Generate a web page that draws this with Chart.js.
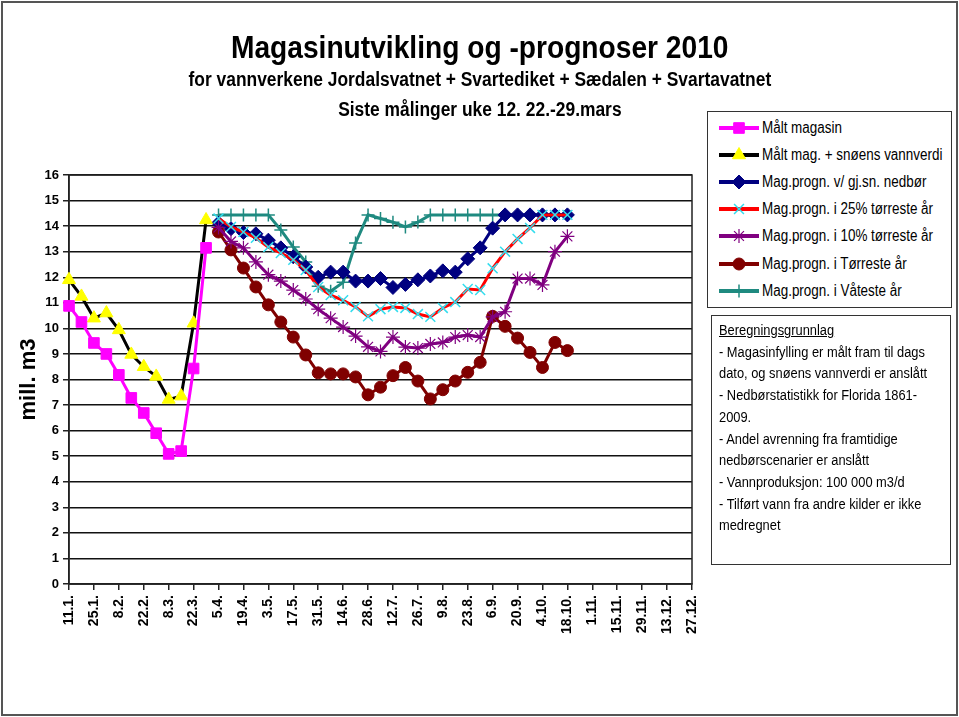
<!DOCTYPE html>
<html>
<head>
<meta charset="utf-8">
<script src="https://cdn.jsdelivr.net/npm/chart.js@4.4.1/dist/chart.umd.min.js"></script>
<style>
    body { margin: 0; background: #fff; }
    #frame { position: absolute; left: 1px; top: 1px; width: 953px; height: 711px; border: 2px solid #555; }
    #chartWrap { position: absolute; left: 0; top: 0; width: 959px; height: 717px; }
    .narrow { font-family: "Liberation Sans Narrow", "Arial Narrow", "Liberation Sans", sans-serif; color: #000; white-space: nowrap; }
    .ttl { position: absolute; left: 0; width: 959px; text-align: center; font-weight: bold; }
    .ttl span { display: inline-block; transform-origin: center center; }
    #t1 { top: 29px; font-size: 32px; }
    #t1 span { transform: scaleX(0.88); }
    #t2 { top: 68px; font-size: 20px; }
    #t3 { top: 98px; font-size: 20px; }
    #t2 span, #t3 span { transform: scaleX(0.87); }
    #legend-container { position: absolute; left: 707px; top: 111px; width: 243px; height: 195px; border: 1.5px solid #333; background: #fff; }
    #legend-container ul { list-style: none; margin: 0; padding: 2px 0 0 0; }
    #legend-container li { height: 27.2px; display: flex; align-items: center; font-size: 16px; }
    #legend-container canvas { margin: 0 3px 0 11px; }
    #legend-container span { display: inline-block; transform: scaleX(0.84); transform-origin: left center; }
    #notes { position: absolute; left: 711px; top: 315px; width: 238px; height: 248px; border: 1.5px solid #333; }
    #notes div { position: absolute; left: 7px; top: 3px; font-size: 15.5px; line-height: 21.7px; transform: scaleX(0.83); transform-origin: left top; }
</style>
</head>
<body>
<div id="frame"></div>
<div id="chartWrap"><canvas id="chart1" width="959" height="717"></canvas></div>
<div id="t1" class="narrow ttl"><span>Magasinutvikling og -prognoser 2010</span></div>
<div id="t2" class="narrow ttl"><span>for vannverkene Jordalsvatnet + Svartediket + Sædalen + Svartavatnet</span></div>
<div id="t3" class="narrow ttl"><span>Siste målinger uke 12. 22.-29.mars</span></div>
<div id="legend-container" class="narrow"></div>
<div id="notes" class="narrow"><div>
    <u>Beregningsgrunnlag</u><br>
    - Magasinfylling er målt fram til dags<br>
    dato, og snøens vannverdi er anslått<br>
    - Nedbørstatistikk for Florida 1861-<br>
    2009.<br>
    - Andel avrenning fra framtidige<br>
    nedbørscenarier er anslått<br>
    - Vannproduksjon: 100 000 m3/d<br>
    - Tilført vann fra andre kilder er ikke<br>
    medregnet
</div></div>
<script>
// weekly categories, every second one is labelled on the axis
const weeks = [
    '11.1.', '18.1.', '25.1.', '1.2.', '8.2.', '15.2.', '22.2.', '1.3.', '8.3.', '15.3.',
    '22.3.', '29.3.', '5.4.', '12.4.', '19.4.', '26.4.', '3.5.', '10.5.', '17.5.', '24.5.',
    '31.5.', '7.6.', '14.6.', '21.6.', '28.6.', '5.7.', '12.7.', '19.7.', '26.7.', '2.8.',
    '9.8.', '16.8.', '23.8.', '30.8.', '6.9.', '13.9.', '20.9.', '27.9.', '4.10.', '11.10.',
    '18.10.', '25.10.', '1.11.', '8.11.', '15.11.', '22.11.', '29.11.', '6.12.', '13.12.', '20.12.',
    '27.12.'
];

// measured values, weeks 11.1. - 29.3.
const maaltMagasin = [10.88, 10.25, 9.43, 9.0, 8.18, 7.28, 6.69, 5.9, 5.09, 5.2, 8.43, 13.15];
const maaltPlussSno = [11.9, 11.25, 10.4, 10.6, 9.94, 8.98, 8.5, 8.12, 7.22, 7.35, 10.2, 14.24];

// forecasts, weeks 5.4. - 18.10.
const prognGjsn = [14.12, 13.9, 13.75, 13.7, 13.45, 13.15, 12.8, 12.4, 12.0, 12.2, 12.2, 11.85, 11.85, 11.95, 11.6,
    11.72, 11.9, 12.05, 12.25, 12.2, 12.72, 13.15, 13.92, 14.44, 14.44, 14.44, 14.44, 14.44, 14.44];
const progn25 = [14.3, 13.97, 13.77, 13.54, 13.18, 12.95, 12.68, 12.28, 11.62, 11.3, 11.1, 10.84, 10.47, 10.75, 10.84,
    10.8, 10.56, 10.45, 10.8, 11.03, 11.54, 11.5, 12.35, 13.0, 13.5, 13.93, 14.44, 14.44, 14.44];
const progn10 = [13.95, 13.4, 13.15, 12.6, 12.1, 11.85, 11.5, 11.15, 10.75, 10.4, 10.05, 9.7, 9.28, 9.1, 9.66,
    9.27, 9.23, 9.39, 9.45, 9.66, 9.74, 9.66, 10.45, 10.65, 11.95, 11.95, 11.7, 13.0, 13.6];
const prognTorreste = [13.77, 13.07, 12.36, 11.62, 10.92, 10.25, 9.66, 8.96, 8.26, 8.22, 8.22, 8.1, 7.4, 7.7, 8.15,
    8.47, 7.94, 7.24, 7.6, 7.94, 8.28, 8.67, 10.47, 10.08, 9.62, 9.06, 8.47, 9.45, 9.13];
const prognVateste = [14.44, 14.44, 14.44, 14.44, 14.44, 13.85, 13.18, 12.6, 11.65, 11.45, 11.8, 13.34, 14.44, 14.3, 14.15,
    13.97, 14.16, 14.44, 14.44, 14.44, 14.44, 14.44, 14.44, 14.44, 14.44, 14.44, 14.44, 14.44, 14.44];

const pad = n => Array(n).fill(null);
const measured = arr => [...arr, ...pad(weeks.length - arr.length)];
const forecast = arr => [...pad(12), ...arr, ...pad(weeks.length - 12 - arr.length)];

const axisFamily = 'Liberation Sans, Arial, sans-serif';

const data1 = {
    labels: weeks,
    datasets: [
        { label: 'Målt magasin', data: measured(maaltMagasin), borderColor: '#ff00ff', backgroundColor: '#ff00ff',
          pointStyle: 'rect', pointRadius: 7.5, pointBorderWidth: 1, borderWidth: 3 },
        { label: 'Målt mag. + snøens vannverdi', data: measured(maaltPlussSno), borderColor: '#000000', backgroundColor: '#ffff00',
          pointBorderColor: '#ffff00', pointStyle: 'triangle', pointRadius: 7.5, pointBorderWidth: 1, borderWidth: 3 },
        { label: 'Mag.progn. v/ gj.sn. nedbør', data: forecast(prognGjsn), borderColor: '#000080', backgroundColor: '#000080',
          pointStyle: 'rectRot', pointRadius: 7, pointBorderWidth: 1, borderWidth: 3, order: 1 },
        { label: 'Mag.progn. i 25% tørreste år', data: forecast(progn25), borderColor: '#ff0000', backgroundColor: '#33ddee',
          pointBorderColor: '#33ddee', pointStyle: 'crossRot', pointRadius: 7, pointBorderWidth: 1.5, borderWidth: 3 },
        { label: 'Mag.progn. i 10% tørreste år', data: forecast(progn10), borderColor: '#800080', backgroundColor: '#800080',
          pointStyle: 'star', pointRadius: 7, pointBorderWidth: 1.2, borderWidth: 3 },
        { label: 'Mag.progn. i Tørreste år', data: forecast(prognTorreste), borderColor: '#800000', backgroundColor: '#800000',
          pointStyle: 'circle', pointRadius: 6, pointBorderWidth: 1, borderWidth: 3 },
        { label: 'Mag.progn. i Våteste år', data: forecast(prognVateste), borderColor: '#1f8a80', backgroundColor: '#1f8a80',
          pointStyle: 'cross', pointRadius: 6.5, pointBorderWidth: 1.5, borderWidth: 3, order: 2 }
    ]
};

// legend drawn into a html box, line sample + marker
const htmlLegendPlugin = {
    id: 'htmlLegend',
    afterUpdate(chart, args, options) {
        const container = document.getElementById(options.containerID);
        container.innerHTML = '';
        const ul = document.createElement('ul');
        chart.data.datasets.forEach(ds => {
            const li = document.createElement('li');
            const c = document.createElement('canvas');
            c.width = 40; c.height = 18;
            const ctx = c.getContext('2d');
            ctx.strokeStyle = ds.borderColor;
            ctx.lineWidth = 4;
            ctx.beginPath(); ctx.moveTo(0, 9); ctx.lineTo(40, 9); ctx.stroke();
            ctx.fillStyle = ds.backgroundColor;
            ctx.strokeStyle = ds.pointBorderColor || ds.backgroundColor;
            ctx.lineWidth = ds.pointBorderWidth;
            if (Chart.helpers && Chart.helpers.drawPoint) {
                Chart.helpers.drawPoint(ctx, { pointStyle: ds.pointStyle, radius: ds.pointRadius, rotation: 0, borderWidth: ds.pointBorderWidth }, 20, 9);
            }
            li.appendChild(c);
            const span = document.createElement('span');
            span.textContent = ds.label;
            li.appendChild(span);
            ul.appendChild(li);
        });
        container.appendChild(ul);
    }
};

// frame round the plot area
const plotFrame = {
    id: 'plotFrame',
    beforeDatasetsDraw(chart) {
        const { ctx, chartArea: a } = chart;
        ctx.save();
        ctx.strokeStyle = '#222';
        ctx.lineWidth = 1.5;
        ctx.strokeRect(a.left, a.top, a.right - a.left, a.bottom - a.top);
        ctx.restore();
    }
};

const config1 = {
    type: 'line',
    data: data1,
    options: {
        responsive: false,
        animation: false,
        devicePixelRatio: 1,
        layout: { padding: { left: 2, top: 175, right: 267, bottom: 0 } },
        elements: { line: { tension: 0 } },
        plugins: {
            htmlLegend: { containerID: 'legend-container' },
            legend: { display: false },
            tooltip: { enabled: false }
        },
        scales: {
            x: {
                offset: false,
                grid: {
                    drawOnChartArea: false,
                    tickLength: 6,
                    lineWidth: 1.5,
                    tickColor: c => (c.index % 2 ? 'rgba(0,0,0,0)' : '#222')
                },
                border: { color: '#222', width: 1.5 },
                ticks: {
                    autoSkip: false, maxRotation: 90, minRotation: 90, color: '#000', padding: 5,
                    font: { family: axisFamily, size: 14, weight: 'bold' },
                    callback: (v, i) => (i % 2 ? '' : weeks[i])
                },
                afterFit: s => { s.height = 133; }
            },
            y: {
                min: 0,
                max: 16,
                ticks: { stepSize: 1, color: '#000', font: { family: axisFamily, size: 13, weight: 'bold' }, padding: 4 },
                grid: { color: '#111', lineWidth: 1.5, tickLength: 6, tickColor: '#222' },
                border: { color: '#222', width: 1.5 },
                title: { display: true, text: 'mill. m3', color: '#000', font: { family: axisFamily, size: 22, weight: 'bold' }, padding: { top: 14, bottom: 0 } },
                afterFit: s => { s.width = 67; }
            }
        }
    },
    plugins: [htmlLegendPlugin, plotFrame]
};

const chart11 = document.getElementById('chart1').getContext('2d');
const chart1 = new Chart(chart11, config1);
</script>
</body>
</html>
